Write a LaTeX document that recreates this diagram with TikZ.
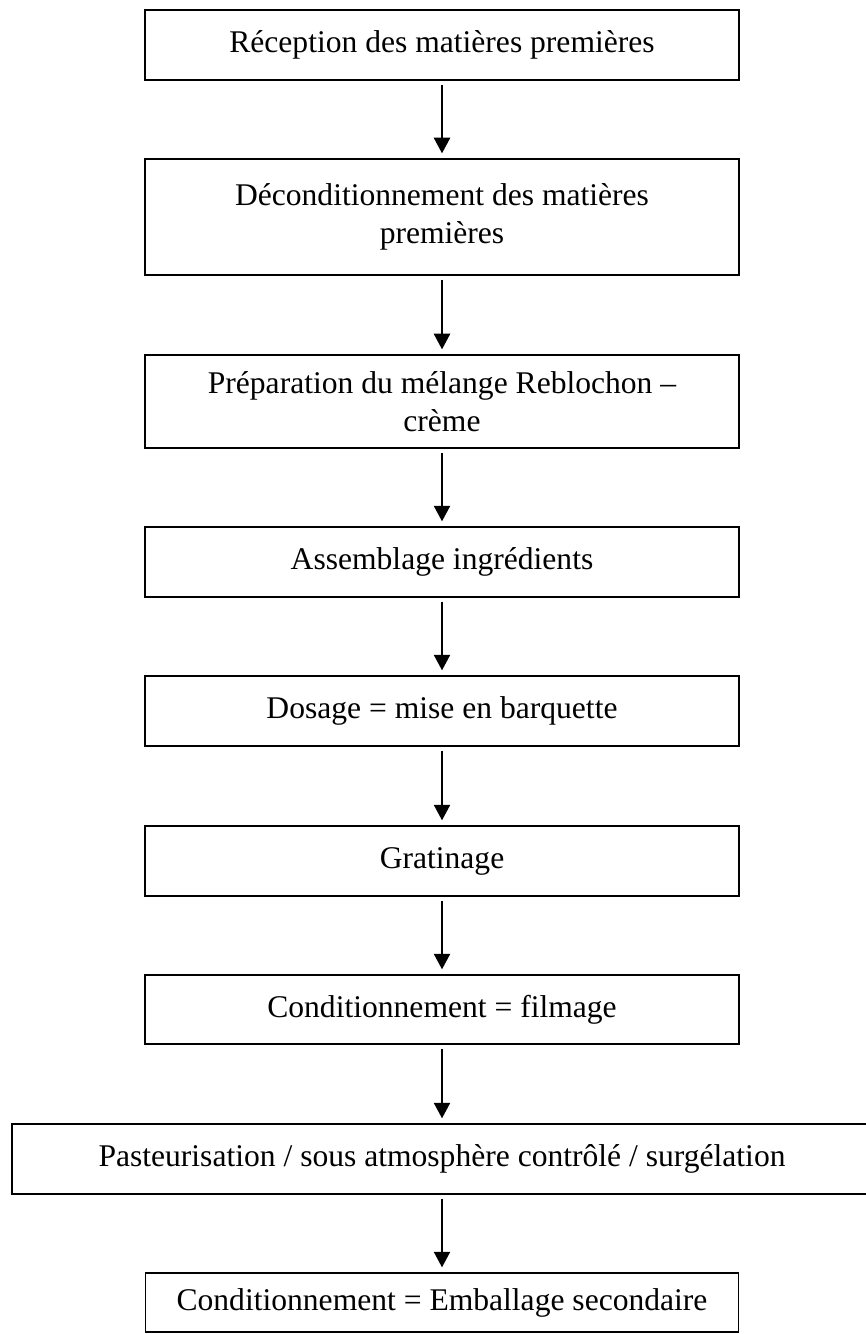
\documentclass[tikz,border=0pt]{standalone}
\usepackage{fontspec}
\setmainfont{Liberation Serif}
\usetikzlibrary{arrows.meta}

\tikzset{
	etape/.style={draw, line width=0.55pt, rectangle, align=center, inner sep=0pt,
		minimum width=594*0.38pt, minimum height=70*0.38pt,
		font=\fontsize{12}{14.5}\selectfont},
	fleche/.style={line width=0.55pt, -{Triangle[length=5.9pt,width=6.2pt]},
		shorten <=1.5pt, shorten >=1.9pt}
}

\begin{document}
\begin{tikzpicture}[x=0.38pt, y=-0.38pt]
	\useasboundingbox (0,0) rectangle (865,1334);
	\def\xc{442};
	% etapes du procede
	\node[etape] (recep) at (\xc,45) {Réception des matières premières};
	\node[etape, minimum height=116*0.38pt] (decond) at (\xc,217) {Déconditionnement des matières\\premières\\[-12pt]};
	\node[etape, minimum height=93*0.38pt] (prep) at (\xc,401.5) {Préparation du mélange Reblochon --\\crème};
	\node[etape] (assemb) at (\xc,562) {Assemblage ingrédients};
	\node[etape] (dosage) at (\xc,711) {Dosage = mise en barquette};
	\node[etape] (gratin) at (\xc,861) {Gratinage};
	\node[etape, minimum height=69*0.38pt] (condit) at (\xc,1009.5) {Conditionnement = filmage};
	\node[etape, minimum width=860*0.38pt] (pasteur) at (\xc,1159) {Pasteurisation / sous atmosphère contrôlé / surgélation};
	\node[etape, minimum width=593*0.38pt, minimum height=59*0.38pt] (emball) at (\xc,1302.5) {Conditionnement = Emballage secondaire};
	% fleches
	\draw[fleche] (recep) -- (decond);
	\draw[fleche] (decond) -- (prep);
	\draw[fleche] (prep) -- (assemb);
	\draw[fleche] (assemb) -- (dosage);
	\draw[fleche] (dosage) -- (gratin);
	\draw[fleche] (gratin) -- (condit);
	\draw[fleche] (condit) -- (pasteur);
	\draw[fleche] (pasteur) -- (emball);
\end{tikzpicture}
\end{document}
